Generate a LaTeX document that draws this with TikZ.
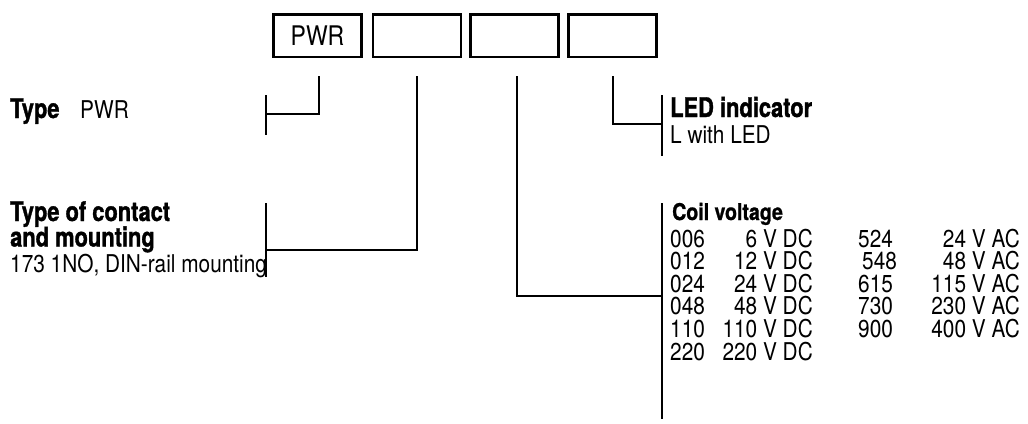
\documentclass[tikz,border=0pt]{standalone}
\usepackage{fontspec}
\setmainfont{TeX Gyre Heros}[FakeStretch=0.85]
\newfontfamily\hcn{TeX Gyre Heros}[FakeStretch=0.81,BoldFeatures={FakeBold=1.2}]
\newfontfamily\hcs{TeX Gyre Heros}[FakeStretch=0.85,BoldFeatures={FakeBold=1.0}]
\usetikzlibrary{calc}
\begin{document}
\begin{tikzpicture}[x=1pt,y=-1pt,
  box/.style={draw,line width=2.5pt,minimum width=88pt,minimum height=42.5pt,inner sep=0pt,font=\fontsize{27}{27}\selectfont},
  conn/.style={line width=1.6pt},
  bar/.style={line width=2.5pt},
  lbl/.style={anchor=base west,inner sep=0pt,font=\fontsize{24.5}{24.5}\selectfont},
  rlbl/.style={anchor=base east,inner sep=0pt,font=\fontsize{24.5}{24.5}\selectfont},
  hdr/.style={anchor=base west,inner sep=0pt,font=\hcn\bfseries\fontsize{27}{27}\selectfont},
  shdr/.style={anchor=base west,inner sep=0pt,font=\hcs\bfseries\fontsize{23}{23}\selectfont}
]
\useasboundingbox (0,0) rectangle (1028,423);
\fill[white] (0,0) rectangle (1028,423);

% code boxes
\node[box] (b1) at (317.5,35.5) {PWR};
\node[box] (b2) at (416.8,35.5) {};
\node[box] (b3) at (514.3,35.5) {};
\node[box] (b4) at (612.5,35.5) {};

% connector start points
\coordinate (s1) at (319,76);
\coordinate (s2) at (417,76);
\coordinate (s3) at (517,76);
\coordinate (s4) at (613,76);

% bars
\coordinate (p1t) at (266,95);  \coordinate (p1b) at (266,135);
\coordinate (p2t) at (266,203); \coordinate (p2b) at (266,277);
\coordinate (p3t) at (662,203); \coordinate (p3b) at (662,419);
\coordinate (p4t) at (662,95);  \coordinate (p4b) at (662,156);
\draw[bar] (p1t) -- (p1b);
\draw[bar] (p2t) -- (p2b);
\draw[bar] (p3t) -- (p3b);
\draw[bar] (p4t) -- (p4b);

% connectors
\draw[conn] (s1) |- ($(p1t)!0.475!(p1b)$);
\draw[conn] (s2) |- ($(p2t)!0.635!(p2b)$);
\draw[conn] (s3) |- ($(p3t)!0.43!(p3b)$);
\draw[conn] (s4) |- ($(p4t)!0.475!(p4b)$);

% left labels
\node[hdr] (t1) at (10,118) {Type};
\node[lbl] (t1v) at (80,118) {PWR};
\node[hdr] (t2a) at (10,221) {Type of contact};
\node[hdr] (t2b) at (10,246.5) {and mounting};
\node[lbl] (t2v) at (10,272) {173 1NO, DIN-rail mounting};

% LED
\node[hdr] (t4) at (670,117) {LED indicator};
\node[lbl] (t4v) at (670,143) {L with LED};

% coil voltage
\node[shdr] (t3) at (672,220) {Coil voltage};
\foreach \c/\v [count=\i] in {006/6 V DC,012/12 V DC,024/24 V DC,048/48 V DC,110/110 V DC,220/220 V DC}{
  \node[lbl] (ca\i) at (670,{247+22.6*(\i-1)}) {\c};
  \node[rlbl] (va\i) at (813,{247+22.6*(\i-1)}) {\v};
}
\foreach \c/\v/\dx [count=\i] in {524/24 V AC/0,548/48 V AC/4,615/115 V AC/0,730/230 V AC/0,900/400 V AC/0}{
  \node[lbl] (cb\i) at ({858+\dx},{247+22.6*(\i-1)}) {\c};
  \node[rlbl] (vb\i) at (1020,{247+22.6*(\i-1)}) {\v};
}
\end{tikzpicture}
\end{document}
